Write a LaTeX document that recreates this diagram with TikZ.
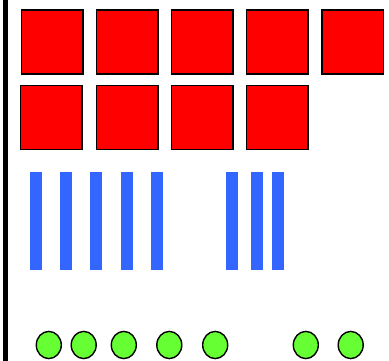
\documentclass[tikz,border=0pt]{standalone}
\usetikzlibrary{positioning}

\definecolor{tilered}{HTML}{FF0000}
\definecolor{barblue}{HTML}{3366FF}
\definecolor{dotgreen}{HTML}{66FF33}

\tikzset{
    tile/.style={fill=tilered, draw=black, line width=1.5pt},
    bar/.style={fill=barblue},
    dot/.style={fill=dotgreen, draw=black, line width=1.4pt}
}

\begin{document}
\begin{tikzpicture}[x=1pt, y=-1pt]
        \useasboundingbox (0,0) rectangle (389,361);

        % svislá čára
        \draw[line width=5.5pt] (5.3,0) -- (5.3,361);

        % čtverce - první řada
        \foreach \x in {21.5, 96.5, 171.5, 246.5, 322} {
            \filldraw[tile] (\x,10) rectangle ++(61.5,64);
        }
        % čtverce - druhá řada
        \foreach \x in {20.5, 96.5, 171.5, 246.5} {
            \filldraw[tile] (\x,85.5) rectangle ++(61.5,64);
        }

        % sloupky
        \foreach \x in {30, 60, 90, 120.7, 150.7, 226.3, 251, 271.7} {
            \fill[bar] (\x,172.3) rectangle ++(12,97.7);
        }

        % kolečka
        \foreach \x in {48.8, 83.7, 123.8, 169.3, 215.2, 305.8, 350.7} {
            \filldraw[dot] (\x,345) ellipse (12.5 and 13.6);
        }

    \end{tikzpicture}
\end{document}
